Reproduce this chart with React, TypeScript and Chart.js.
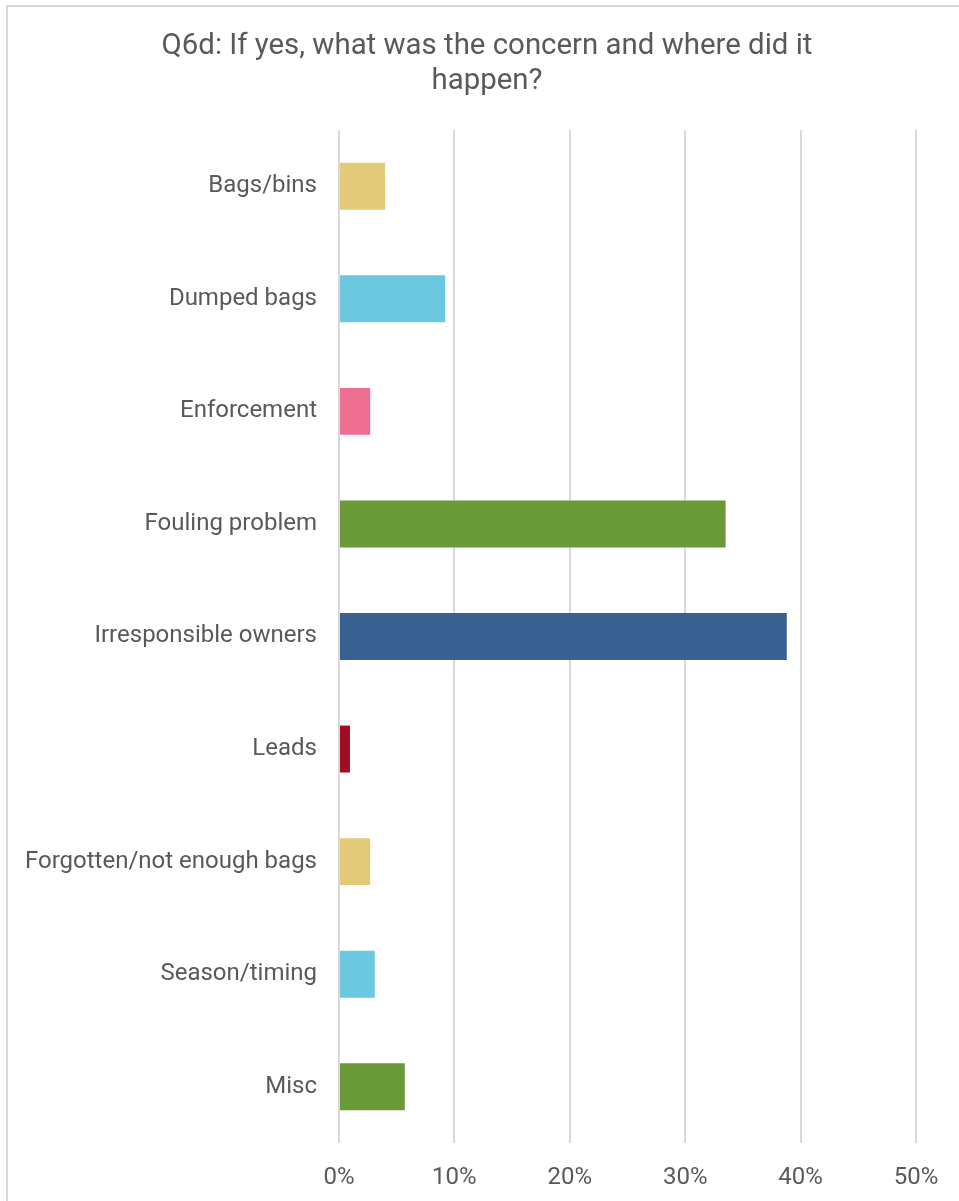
import React, { useEffect, useRef } from "react";
import { Chart, registerables } from "chart.js";

Chart.register(...registerables);

const titleLines = ["Q6d: If yes, what was the concern and where did it", "happen?"];
const categories = [
  "Bags/bins",
  "Dumped bags",
  "Enforcement",
  "Fouling problem",
  "Irresponsible owners",
  "Leads",
  "Forgotten/not enough bags",
  "Season/timing",
  "Misc",
];
const values = [4.0, 9.2, 2.7, 33.5, 38.8, 0.95, 2.7, 3.1, 5.7];
const barColors = [
  "#E2CA78",
  "#6BC8E0",
  "#EE6E92",
  "#6A9A37",
  "#386192",
  "#A20D24",
  "#E2CA78",
  "#6BC8E0",
  "#6A9A37",
];
const xMin = 0;
const xMax = 50;
const xStep = 10;

const FONT = "Roboto, 'Noto Sans', sans-serif";
const TEXT = "#595959";
const GRID = "#D9D9D9";

export default function App() {
  const ref = useRef<HTMLCanvasElement | null>(null);

  useEffect(() => {
    if (!ref.current) return;
    const chart = new Chart(ref.current, {
      type: "bar",
      data: {
        labels: categories,
        datasets: [
          {
            data: values,
            backgroundColor: barColors,
            borderWidth: 0,
            barPercentage: 0.417,
            categoryPercentage: 1,
          },
        ],
      },
      options: {
        indexAxis: "y",
        animation: false,
        responsive: false,
        maintainAspectRatio: false,
        layout: { padding: { left: 0, right: 0, top: 0, bottom: 0 } },
        plugins: {
          legend: { display: false },
          tooltip: { enabled: false },
          title: {
            display: true,
            text: titleLines,
            color: TEXT,
            font: { family: FONT, size: 29.4, weight: "normal", lineHeight: 1.2 },
            padding: { top: 21, bottom: 30.4 },
          },
        },
        scales: {
          x: {
            min: xMin,
            max: xMax,
            grid: { color: GRID, lineWidth: 2, drawTicks: false },
            border: { display: false },
            ticks: {
              stepSize: xStep,
              color: TEXT,
              padding: 21,
              font: { family: FONT, size: 24 },
              callback: (v: any) => v + "%",
            },
            afterFit: (s: any) => {
              s.height = 58;
            },
          },
          y: {
            grid: { display: false, drawTicks: false },
            border: { display: false },
            ticks: {
              color: TEXT,
              padding: 22,
              font: { family: FONT, size: 24 },
            },
            afterFit: (s: any) => {
              s.width = 330;
            },
          },
          yRight: {
            type: "category",
            position: "right",
            grid: { display: false, drawTicks: false },
            border: { display: false },
            ticks: { display: false },
            afterFit: (s: any) => {
              s.width = 49;
            },
          },
        },
      },
    });
    return () => chart.destroy();
  }, []);

  return (
    <div
      style={{
        position: "fixed",
        left: 0,
        top: 0,
        width: 959,
        height: 1201,
        overflow: "hidden",
        background: "#fff",
      }}
    >
      <div
        style={{
          position: "absolute",
          left: 6,
          top: 5,
          width: 1000,
          height: 1300,
          border: "2px solid #D9D9D9",
        }}
      />
      <canvas
        ref={ref}
        width={956}
        height={1193}
        style={{ position: "absolute", left: 9, top: 8, width: 956, height: 1193 }}
      />
    </div>
  );
}
